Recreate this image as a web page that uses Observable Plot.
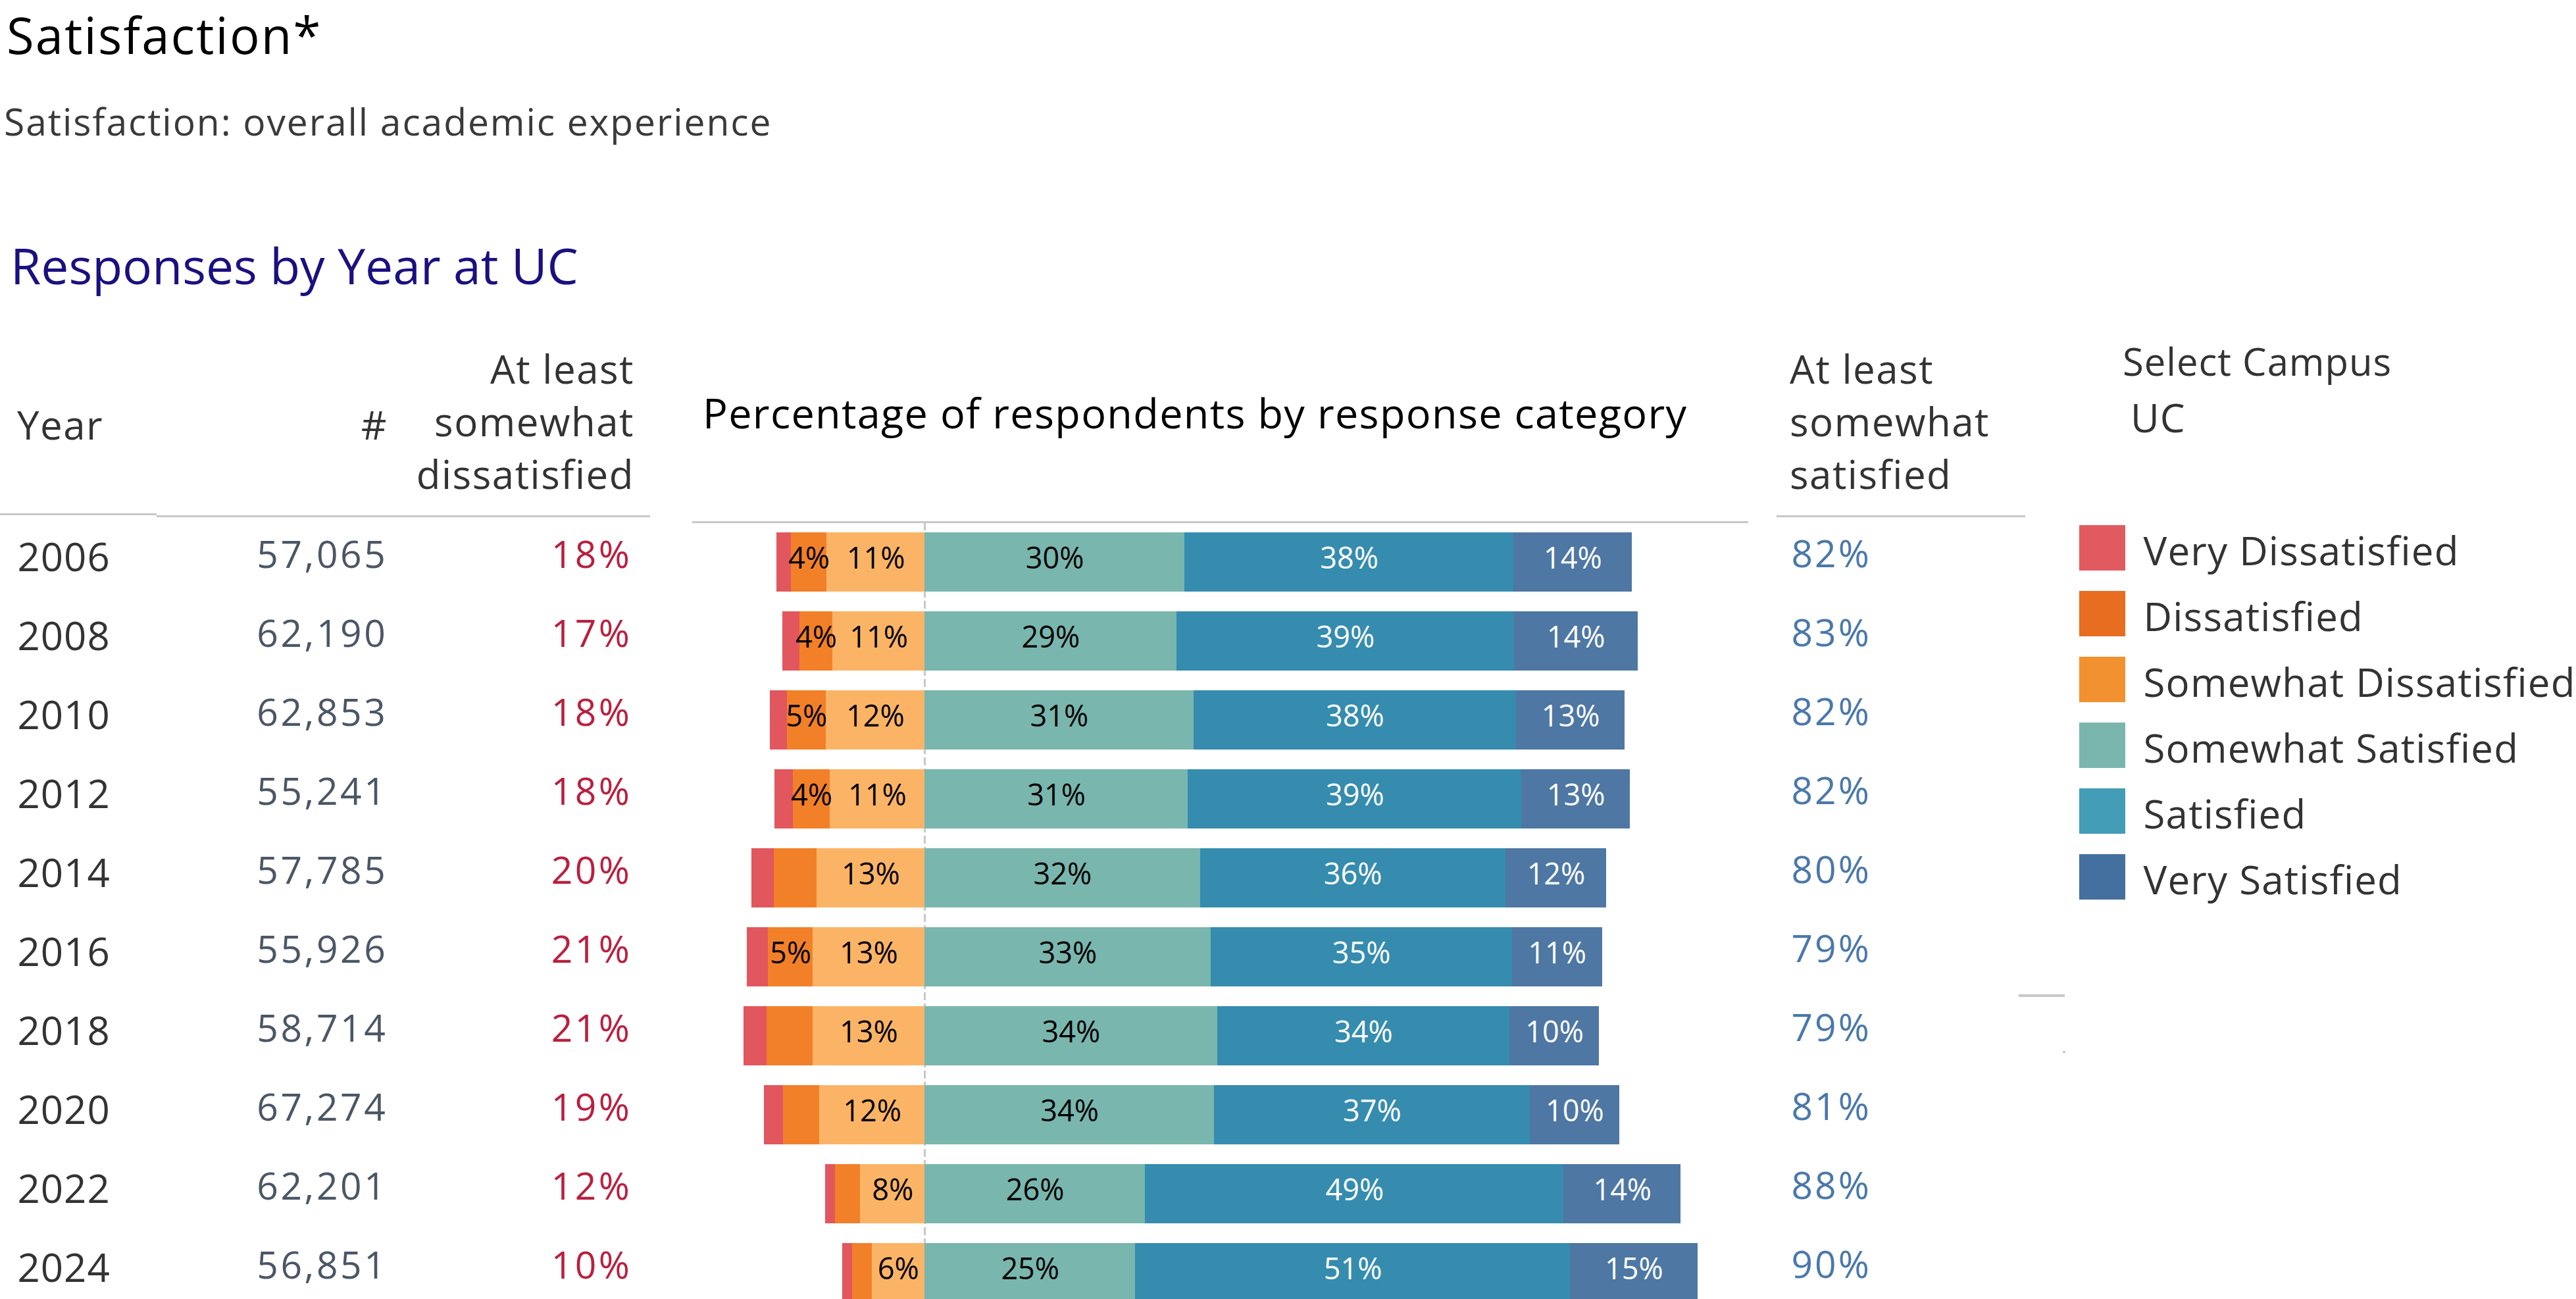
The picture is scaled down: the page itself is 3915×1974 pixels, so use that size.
<!DOCTYPE html>
<html><head><meta charset="utf-8">
<script src="https://cdn.jsdelivr.net/npm/d3@7"></script>
<script src="https://cdn.jsdelivr.net/npm/@observablehq/plot@0.6"></script>
<style>
html,body{margin:0;padding:0;background:#fff;overflow:hidden;}
#root{position:relative;width:3915px;height:1974px;font-family:"Open Sans",sans-serif;overflow:hidden;}
.abs{position:absolute;white-space:nowrap;}
.hdr{font-size:60px;line-height:80px;color:#333;font-weight:500;letter-spacing:1.5px;}
.line{position:absolute;background:#c8c8c8;}
.abs svg{overflow:visible;}
</style></head><body><div id="root"></div>
<script>
// ---------- data ----------
const years = [2006, 2008, 2010, 2012, 2014, 2016, 2018, 2020, 2022, 2024];
const respondents = [57065, 62190, 62853, 55241, 57785, 55926, 58714, 67274, 62201, 56851];
const atLeastDissatisfied = [18, 17, 18, 18, 20, 21, 21, 19, 12, 10];
const atLeastSatisfied = [82, 83, 82, 82, 80, 79, 79, 81, 88, 90];

const categories = ["Very Dissatisfied", "Dissatisfied", "Somewhat Dissatisfied",
                    "Somewhat Satisfied", "Satisfied", "Very Satisfied"];
const veryDissatisfied     = [1.70, 2.00, 1.98, 2.20, 2.60, 2.50, 2.65, 2.20, 1.18, 1.18];
const dissatisfied         = [4.19, 3.90, 4.56, 4.27, 5.00, 5.20, 5.37, 4.27, 2.95, 2.28];
const somewhatDissatisfied = [11.45, 10.75, 11.55, 11.10, 12.65, 13.10, 13.10, 12.30, 7.50, 6.18];
const somewhatSatisfied    = [30.40, 29.45, 31.45, 30.80, 32.20, 33.45, 34.20, 33.85, 25.80, 24.65];
const satisfied            = [38.45, 39.45, 37.70, 39.00, 35.70, 35.20, 34.20, 36.90, 48.90, 50.80];
const verySatisfied        = [13.80, 14.45, 12.70, 12.65, 11.80, 10.55, 10.45, 10.45, 13.70, 14.90];
// years whose "Dissatisfied" segment carries a visible label
const dissatisfiedLabelYears = [2006, 2008, 2010, 2012, 2016];

const barColors    = ["#e1575d", "#f28029", "#fbb466", "#79b6ae", "#358cae", "#4e77a3"];
const legendColors = ["#e15a5f", "#e86d20", "#f29130", "#7ab6ae", "#439db6", "#43709f"];

// ---------- helpers ----------
const root = document.getElementById("root");
function put(el, left, top) {
  const d = document.createElement("div");
  d.className = "abs"; d.style.left = left + "px"; d.style.top = top + "px";
  d.appendChild(el); root.appendChild(d); return d;
}
function html(str, left, top, css, cls) {
  const d = document.createElement("div");
  d.className = "abs" + (cls ? " " + cls : "");
  d.style.left = left + "px"; d.style.top = top + "px";
  d.style.cssText += css || ""; d.innerHTML = str; root.appendChild(d); return d;
}
function line(left, top, width, height) {
  const d = document.createElement("div");
  d.className = "line";
  Object.assign(d.style, {left: left + "px", top: top + "px", width: width + "px", height: height + "px"});
  root.appendChild(d);
}
const FONT = '"Open Sans", sans-serif';
const yScale = {type: "band", domain: years, paddingInner: 0.25, paddingOuter: 0.125, axis: null};
const ROWS_TOP = 794, ROWS_H = 1200;

// ---------- titles & headers ----------
html("Satisfaction*", 10, 0, "font-size:76px;line-height:1.4;color:#000;letter-spacing:2.2px;");
html("Satisfaction: overall academic experience", 6, 156, "font-size:57px;line-height:1;color:#3a3a3a;letter-spacing:1.9px;");
html("Responses by Year at UC", 16, 366, "font-size:75px;line-height:1;color:#1b1080;");

html("Year", 26, 605, "", "hdr");
html("#", 0, 605, "width:589px;text-align:right;", "hdr");
html("At least<br>somewhat<br>dissatisfied", 0, 520, "width:964px;text-align:right;", "hdr");
html("Percentage of respondents by response category", 1068, 595, "font-size:63px;line-height:1;color:#000;letter-spacing:1.3px;");
html("At least<br>somewhat<br>satisfied", 2720, 520, "", "hdr");
html("Select Campus", 3226, 520, "font-size:58px;line-height:1;color:#333;font-weight:500;letter-spacing:1px;");
html("UC", 3238, 604, "font-size:60px;line-height:1;color:#333;letter-spacing:1px;");

line(0, 780, 238, 3); line(238, 783, 750, 3);
line(1052, 792, 1605, 3);
line(2700, 783, 378, 3);
line(3068, 1511, 70, 4); line(3135, 1597, 4, 3);

// ---------- table columns ----------
const tableRows = years.map((year, i) => ({
  year, respondents: respondents[i], dissat: atLeastDissatisfied[i], sat: atLeastSatisfied[i]
}));
function column(width, anchor, text, fill, fontSize, fontWeight, dy, spacing) {
  return Plot.plot({
    width, height: ROWS_H, marginTop: 0, marginBottom: 0, marginLeft: 0, marginRight: 0,
    y: yScale,
    style: {fontFamily: FONT, background: "transparent", letterSpacing: spacing},
    marks: [Plot.text(tableRows, {
      y: "year", text, frameAnchor: anchor, textAnchor: anchor === "left" ? "start" : "end",
      fill, fontSize, fontWeight, dy
    })]
  });
}
put(column(300, "left", d => String(d.year), "#333", 60, 500, -6, "1px"), 26, ROWS_TOP);
put(column(289, "right", d => d3.format(",")(d.respondents), "#4b5666", 57, 400, -10, "3.6px"), 300, ROWS_TOP);
put(column(360, "right", d => d.dissat + "%", "#b9203f", 57, 400, -10, "3.5px"), 600, ROWS_TOP);
put(column(300, "left", d => d.sat + "%", "#4a78ab", 57, 400, -11, "3px"), 2722, ROWS_TOP);

// ---------- diverging bars ----------
const series = [veryDissatisfied, dissatisfied, somewhatDissatisfied, somewhatSatisfied, satisfied, verySatisfied];
const segs = [];
years.forEach((year, i) => {
  let neg = 0;
  for (const ci of [2, 1, 0]) {           // outward from zero on the left
    const v = series[ci][i];
    segs.push({year, category: categories[ci], ci, value: v, x1: -(neg + v), x2: -neg});
    neg += v;
  }
  let pos = 0;
  for (const ci of [3, 4, 5]) {           // outward from zero on the right
    const v = series[ci][i];
    segs.push({year, category: categories[ci], ci, value: v, x1: pos, x2: pos + v});
    pos += v;
  }
});
const labelled = segs.filter(d => d.ci >= 2 || (d.ci === 1 && dissatisfiedLabelYears.includes(d.year)));
const darkLabels = labelled.filter(d => d.ci <= 3);
const lightLabels = labelled.filter(d => d.ci >= 4);
const mid = d => (d.x1 + d.x2) / 2;
const lab = d => Math.round(d.value) + "%";

const bars = Plot.plot({
  width: 1605, height: ROWS_H, margin: 0,
  x: {domain: [-27.15, 96.3], axis: null},
  y: yScale,
  color: {domain: categories, range: barColors},
  style: {fontFamily: FONT, background: "transparent"},
  marks: [
    Plot.ruleX([0], {stroke: "#c8c8c8", strokeWidth: 3, strokeDasharray: "12,5"}),
    Plot.barX(segs, {x1: "x1", x2: "x2", y: "year", fill: "category", inset: 0, shapeRendering: "crispEdges"}),
    Plot.text(darkLabels, {x: mid, y: "year", text: lab, fill: "#000", fontSize: 45, dy: -5}),
    Plot.text(lightLabels, {x: mid, y: "year", text: lab, fill: "#fff", fontSize: 45, dy: -5})
  ]
});
put(bars, 1052, ROWS_TOP);

// ---------- legend ----------
const legend = Plot.plot({
  width: 755, height: 600, marginTop: 0, marginBottom: 0, marginLeft: 0, marginRight: 685,
  y: {type: "band", domain: categories, paddingInner: 0.31, paddingOuter: 0.155, axis: null},
  color: {domain: categories, range: legendColors},
  style: {fontFamily: FONT, background: "transparent", letterSpacing: "1.2px"},
  marks: [
    Plot.cell(categories, {y: d => d, fill: d => d, inset: 0}),
    Plot.text(categories, {y: d => d, text: d => d, frameAnchor: "right", textAnchor: "start",
                           dx: 27, dy: 7, fontSize: 60, fill: "#333"})
  ]
});
put(legend, 3160, 782);
</script>
</body></html>
